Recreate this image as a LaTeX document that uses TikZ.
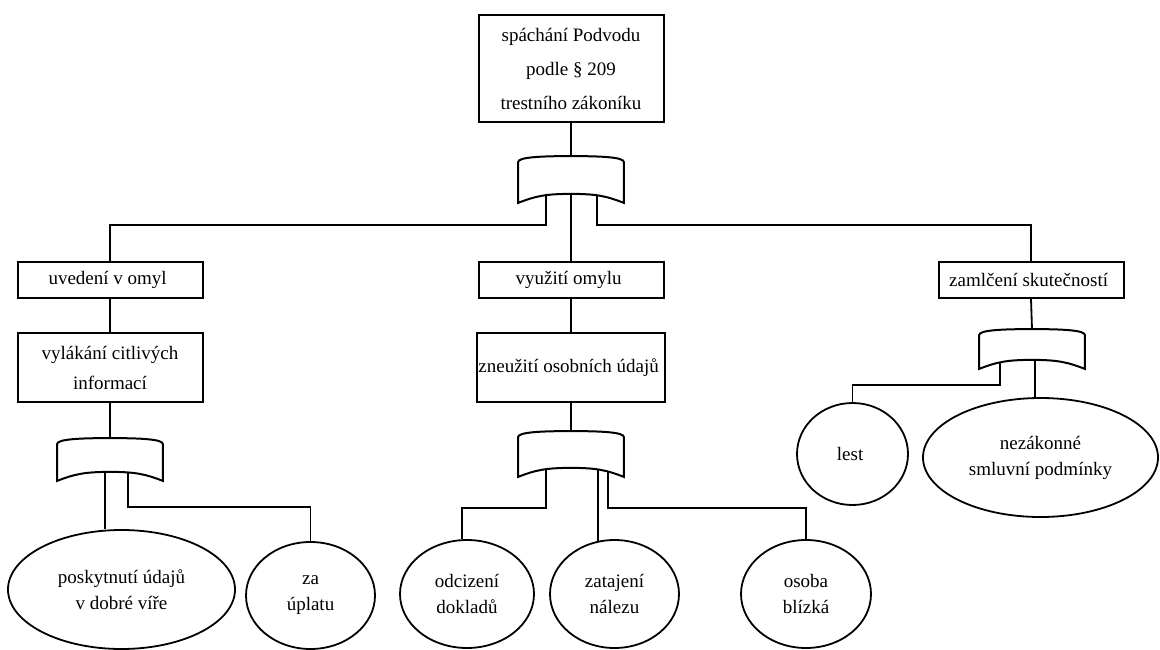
\documentclass[tikz,border=0pt]{standalone}
\usepackage{fontspec}
\setmainfont{Liberation Serif}
\usetikzlibrary{shapes.geometric}
\begin{document}
\begin{tikzpicture}[
				x=1pt, y=1pt,
				line width=1.8pt,
				every node/.style={inner sep=1pt, align=center, font=\fontsize{19}{30}\selectfont},
				box/.style={draw, line width=2pt, minimum width=185pt},
				event/.style={draw, ellipse, font=\fontsize{19}{26}\selectfont},
				orgate/.style={minimum width=104pt, inner sep=0pt}
			]
			\useasboundingbox (0,0) rectangle (1160,-650);
			\node[box, minimum height=107pt, font=\fontsize{19}{34}\selectfont] (top) at (571,-68.5) { spáchání Podvodu\\podle § 209\\trestního zákoníku };
			\node[orgate, minimum height=45pt] (g0) at (571,-179.5) {};
			\node[box, minimum height=36pt] (a1) at (110,-280) { uvedení v omyl };
			\node[box, minimum height=36pt] (a2) at (571,-280) { využití omylu };
			\node[box, minimum height=36pt] (a3) at (1031,-280) { zamlčení skutečností };
			\node[box, minimum height=69pt] (b1) at (110,-367.5) { vylákání citlivých\\informací };
			\node[box, minimum height=69pt] (b2) at (571,-367.5) { zneužití osobních údajů };
			\node[orgate, minimum height=41pt] (g1) at (110,-459.5) {};
			\node[orgate, minimum height=44pt] (g2) at (571,-454) {};
			\node[orgate, minimum height=38pt] (g3) at (1032,-349) {};
			\node[event, minimum width=227pt, minimum height=119pt] (e1) at (121.5,-589.5) { poskytnutí údajů\\v dobré víře };
			\node[event, minimum width=129pt, minimum height=107pt] (e2) at (310.5,-595.5) { za\\úplatu };
			\node[event, minimum width=134pt, minimum height=108pt] (e3) at (467,-594) { odcizení\\dokladů };
			\node[event, minimum width=129pt, minimum height=108pt] (e4) at (614.5,-594) { zatajení\\nálezu };
			\node[event, minimum width=130pt, minimum height=108pt] (e5) at (806,-594) { osoba\\blízká };
			\node[event, minimum width=111pt, minimum height=102pt] (e6) at (852.5,-454) { lest };
			\node[event, minimum width=235pt, minimum height=119pt] (e7) at (1040.5,-457.5) { nezákonné\\smluvní podmínky };

			\draw (top.south) -- (g0.north);
			\draw ([xshift=-25pt,yshift=12pt]g0.south) -- ++(0,-34) -| (a1.north);
			\draw ([yshift=12pt]g0.south) -- (a2.north);
			\draw ([xshift=26pt,yshift=12pt]g0.south) -- ++(0,-34) -| (a3.north);
			\draw (a1.south) -- (b1.north);
			\draw (a2.south) -- (b2.north);
			\draw (a3.south) -- (g3.north);
			\draw (b1.south) -- (g1.north);
			\draw (b2.south) -- (g2.north);

			\draw ([xshift=-5pt,yshift=12pt]g1.south) coordinate (l1) -- (l1 |- e1.north);
			\draw ([xshift=18pt,yshift=12pt]g1.south) -- ++(0,-38) -| (e2.north);
			\draw ([xshift=-25pt,yshift=12pt]g2.south) -- ++(0,-43) -| ([xshift=-5pt]e3.north);
			\draw ([xshift=27pt,yshift=12pt]g2.south) coordinate (l2) -- (l2 |- e4.north) -- ++(0,-2);
			\draw ([xshift=37pt,yshift=12pt]g2.south) -- ++(0,-43) -| (e5.north);
			\draw ([xshift=-32pt,yshift=12pt]g3.south) -- ++(0,-28) -| (e6.north);
			\draw ([xshift=3pt,yshift=12pt]g3.south) coordinate (l3) -- (l3 |- e7.north);

			\foreach \g in {g0,g1,g2,g3}
				\draw[fill=white, line width=2pt] ([yshift=-6pt]\g.north west)
					.. controls ([yshift=-1pt]\g.north west) and ([xshift=-30pt]\g.north) .. (\g.north)
					.. controls ([xshift=30pt]\g.north) and ([yshift=-1pt]\g.north east) .. ([yshift=-6pt]\g.north east)
					-- (\g.south east)
					.. controls ([xshift=-18pt,yshift=7pt]\g.south east) and ([xshift=25pt,yshift=9pt]\g.south) .. ([yshift=9pt]\g.south)
					.. controls ([xshift=-25pt,yshift=9pt]\g.south) and ([xshift=18pt,yshift=7pt]\g.south west) .. (\g.south west)
					-- cycle;
		\end{tikzpicture}
\end{document}
